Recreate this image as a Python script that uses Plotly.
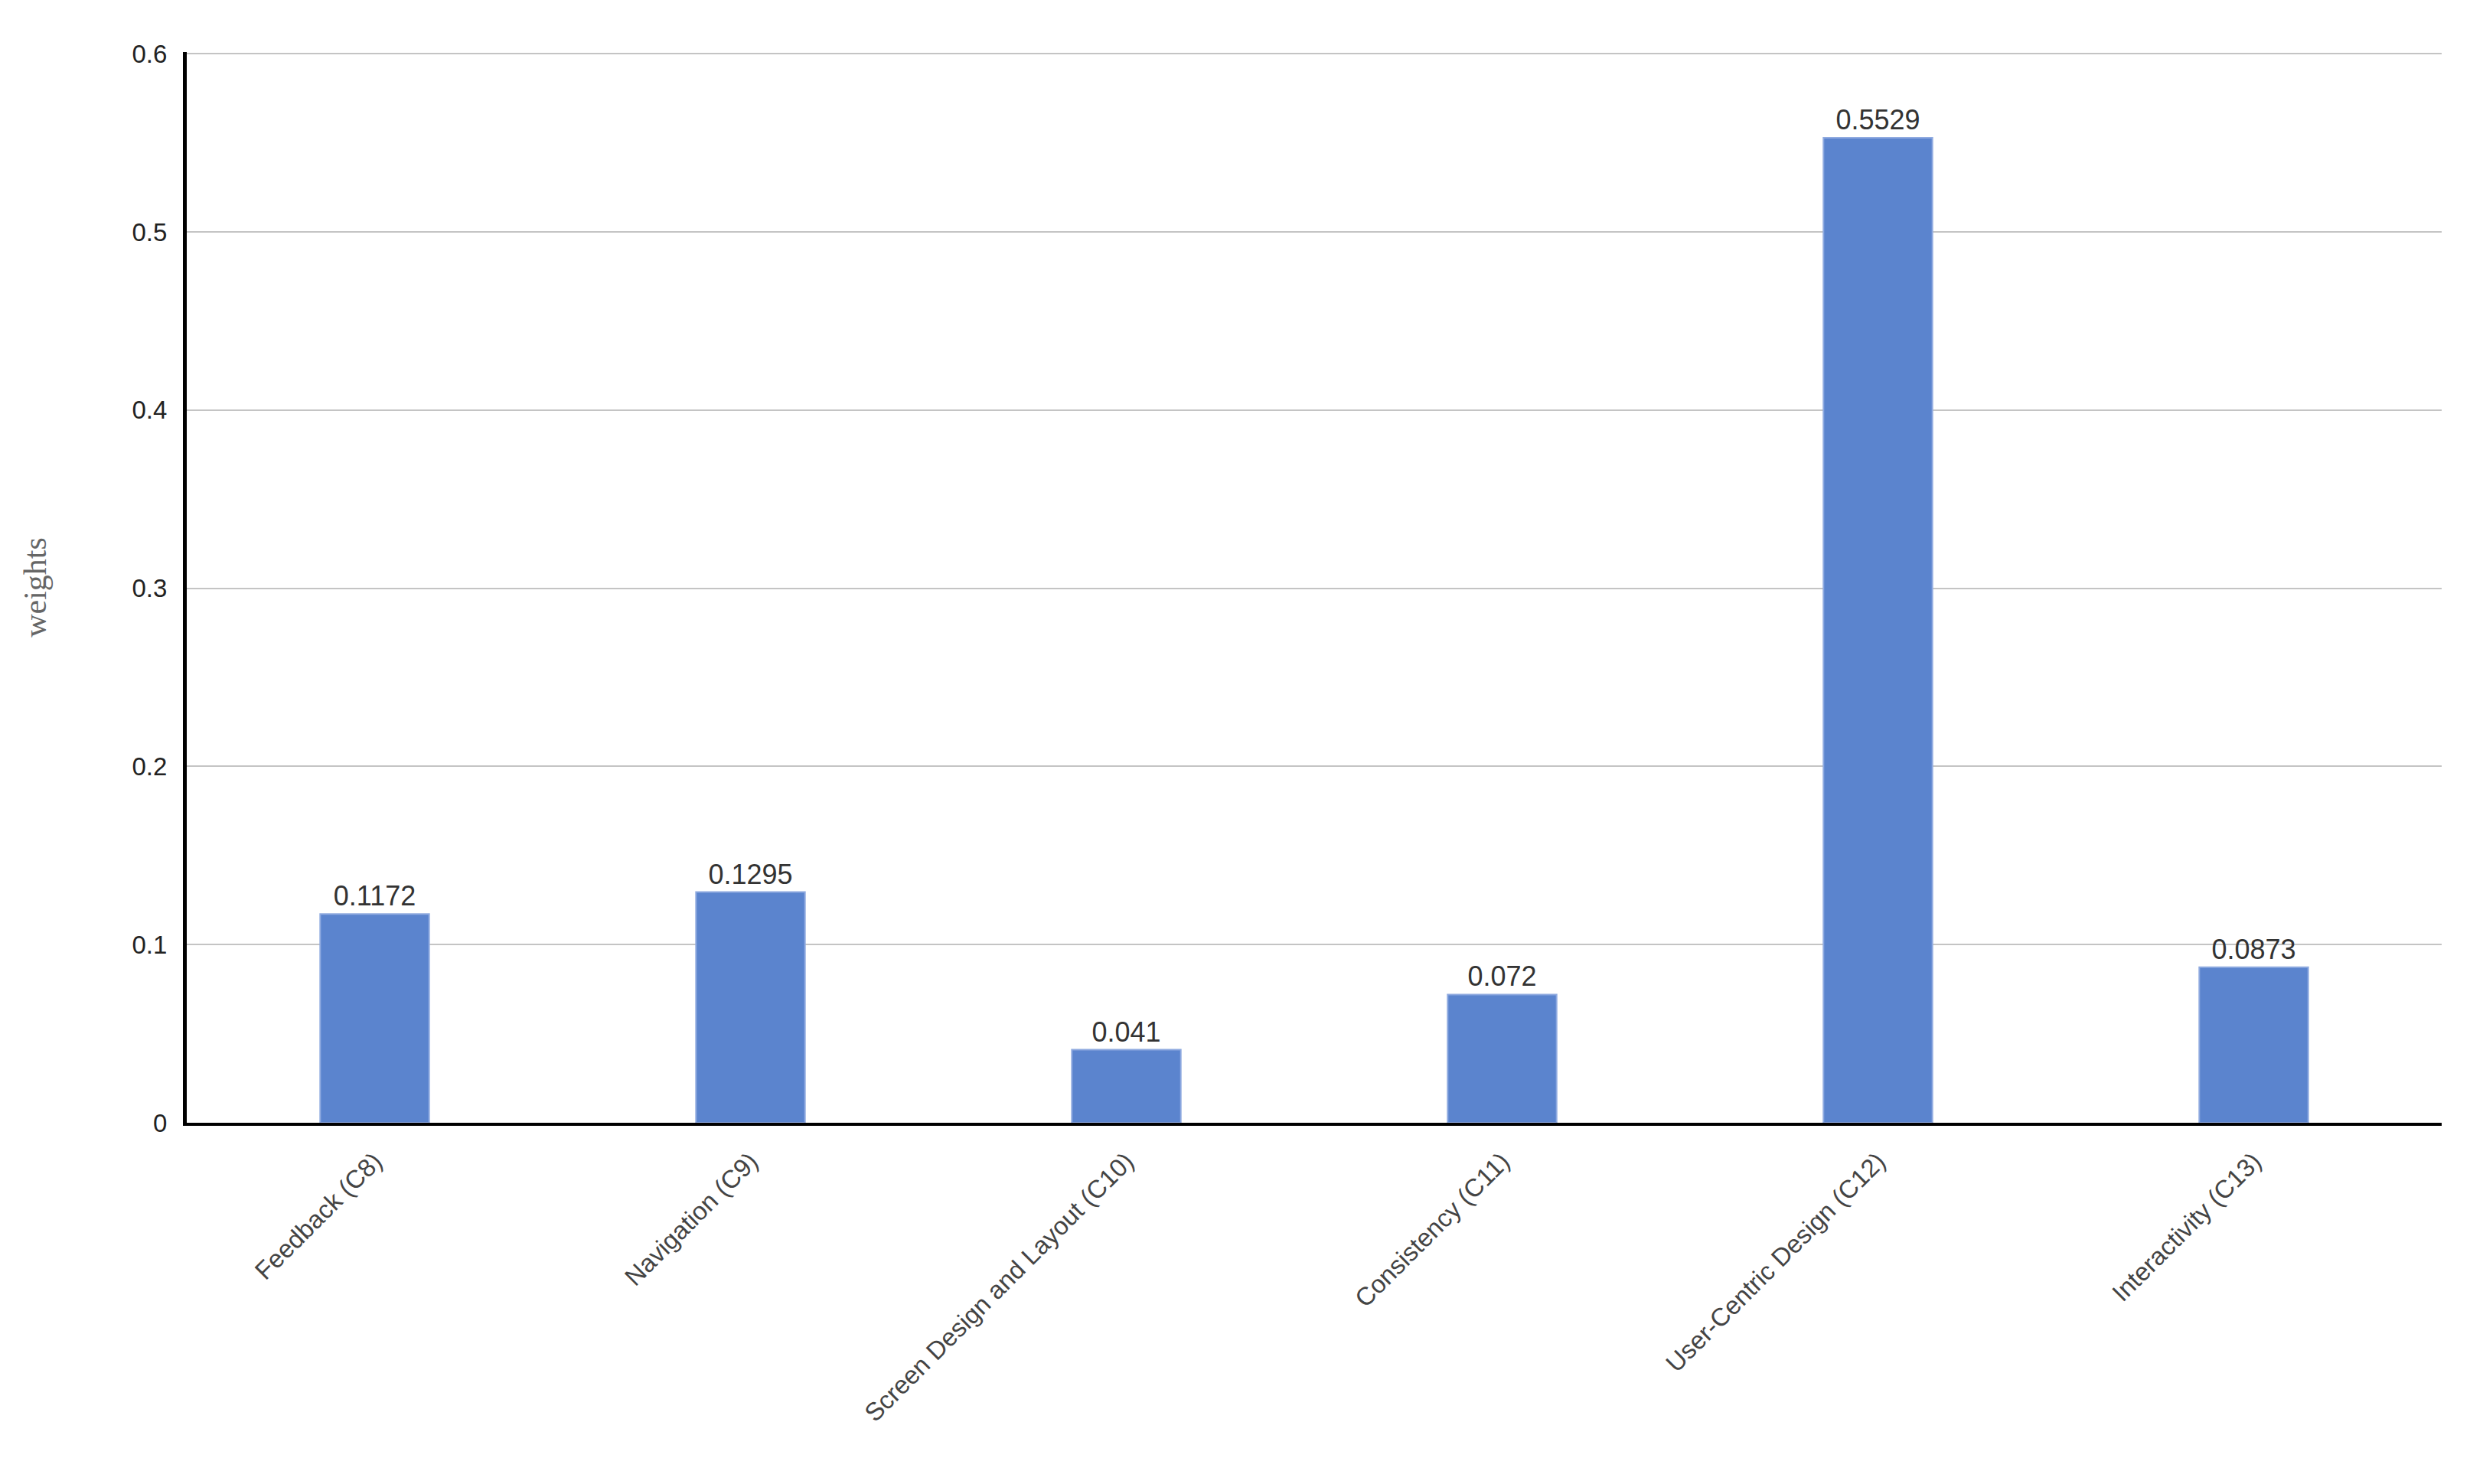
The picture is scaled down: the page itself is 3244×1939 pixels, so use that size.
import plotly.graph_objects as go

categories = ["Feedback (C8)", "Navigation (C9)", "Screen Design and Layout (C10)",
              "Consistency (C11)", "User-Centric Design (C12)", "Interactivity (C13)"]
weights = [0.1172, 0.1295, 0.041, 0.072, 0.5529, 0.0873]
labels = ["0.1172", "0.1295", "0.041", "0.072", "0.5529", "0.0873"]

fig = go.Figure()
fig.add_trace(go.Bar(
    x=categories, y=weights, text=labels, textposition="outside",
    textfont=dict(family="Liberation Sans, Arial", size=36, color="#333333"),
    marker=dict(color="#5b84ce", line=dict(color="#8faae0", width=2)),
    cliponaxis=False,
))

fig.update_layout(
    width=3244, height=1939,
    margin=dict(l=236, r=62, t=60, b=480),
    plot_bgcolor="white", paper_bgcolor="white",
    bargap=0.71, showlegend=False,
    font=dict(family="Liberation Sans, Arial", size=32, color="#333333"),
    uniformtext=dict(minsize=8),
)
fig.update_xaxes(
    tickangle=-45, showline=True, linecolor="black", linewidth=4,
    tickfont=dict(size=33, color="#444444"), ticks="outside", ticklen=14, tickcolor="rgba(0,0,0,0)",
)
fig.update_yaxes(
    range=[0, 0.601], tickvals=[0, 0.1, 0.2, 0.3, 0.4, 0.5, 0.6],
    ticktext=["0", "0.1", "0.2", "0.3", "0.4", "0.5", "0.6"],
    showgrid=True, gridcolor="#c4c4c4", gridwidth=2,
    showline=True, linecolor="black", linewidth=5, zeroline=False,
    ticks="outside", ticklen=14, tickcolor="rgba(0,0,0,0)",
    tickfont=dict(size=33, color="#222222"),
    title=dict(text="weights", standoff=100,
               font=dict(family="Liberation Serif, Times New Roman", size=42, color="#666666")),
)

fig.write_html("out.html")
